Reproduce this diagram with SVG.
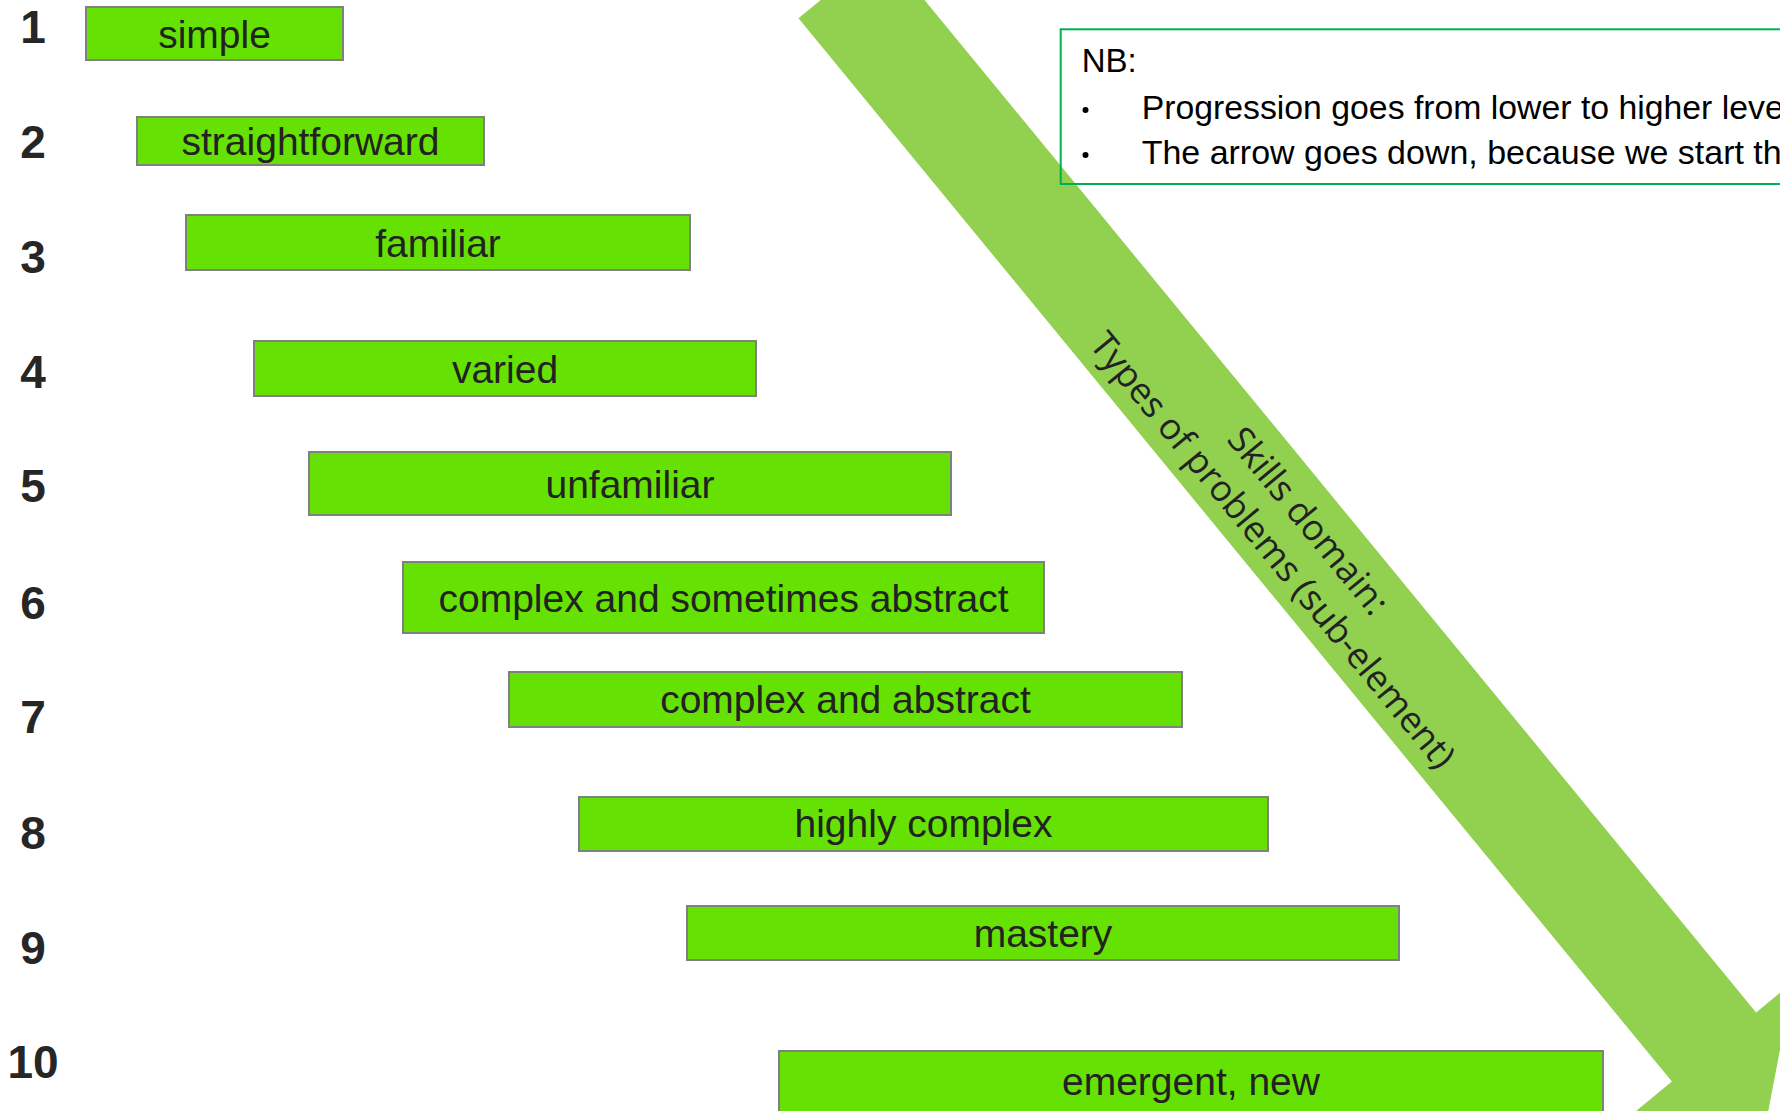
<svg xmlns="http://www.w3.org/2000/svg" width="1780" height="1111" viewBox="0 0 1780 1111">
<style>
.box{fill:#65E203;stroke:#808080;stroke-width:2}
.lbl{font-family:"Liberation Sans",Arial,sans-serif;font-size:39px;fill:#222;text-anchor:middle}
.num{font-family:"Liberation Sans",Arial,sans-serif;font-size:46px;font-weight:bold;fill:#262626;text-anchor:middle}
.rot{font-family:"Open Sans","Noto Sans",sans-serif;font-size:36px;fill:#222;text-anchor:middle}
.nb{font-family:"Liberation Sans",Arial,sans-serif;font-size:33px;fill:#000}
</style>
<rect width="1780" height="1111" fill="#fff"/>
<g id="connectors">
  <g id="big-arrow" transform="translate(840.6,-16.3) rotate(50.6)">
    <polygon points="0,-54.5 1376,-54.5 1376,-102 1461,0 1376,102 1376,54.5 0,54.5" fill="#92D050"/>
    <text class="rot" x="712" y="-8">Skills domain:</text>
    <text class="rot" x="712" y="38">Types of problems (sub-element)</text>
  </g>
</g>
<g id="numbers">
  <text class="num" x="33" y="43">1</text>
  <text class="num" x="33" y="158">2</text>
  <text class="num" x="33" y="273">3</text>
  <text class="num" x="33" y="388">4</text>
  <text class="num" x="33" y="502">5</text>
  <text class="num" x="33" y="619">6</text>
  <text class="num" x="33" y="733">7</text>
  <text class="num" x="33" y="849">8</text>
  <text class="num" x="33" y="964">9</text>
  <text class="num" x="33" y="1078">10</text>
</g>
<g id="n1"><rect class="box" x="86" y="7" width="257" height="53"/><text class="lbl" x="214.5" y="48">simple</text></g>
<g id="n2"><rect class="box" x="137" y="117" width="347" height="48"/><text class="lbl" x="310.5" y="155">straightforward</text></g>
<g id="n3"><rect class="box" x="186" y="215" width="504" height="55"/><text class="lbl" x="438" y="257">familiar</text></g>
<g id="n4"><rect class="box" x="254" y="341" width="502" height="55"/><text class="lbl" x="505" y="383">varied</text></g>
<g id="n5"><rect class="box" x="309" y="452" width="642" height="63"/><text class="lbl" x="630" y="498">unfamiliar</text></g>
<g id="n6"><rect class="box" x="403" y="562" width="641" height="71"/><text class="lbl" x="723.5" y="612">complex and sometimes abstract</text></g>
<g id="n7"><rect class="box" x="509" y="672" width="673" height="55"/><text class="lbl" x="845.5" y="713">complex and abstract</text></g>
<g id="n8"><rect class="box" x="579" y="797" width="689" height="54"/><text class="lbl" x="923.5" y="837">highly complex</text></g>
<g id="n9"><rect class="box" x="687" y="906" width="712" height="54"/><text class="lbl" x="1043" y="947">mastery</text></g>
<g id="n10"><rect class="box" x="779" y="1051" width="824" height="80"/><text class="lbl" x="1191" y="1095">emergent, new</text></g>
<g id="nb-note">
  <rect x="1060.7" y="29.3" width="760" height="154.7" fill="none" stroke="#00B050" stroke-width="2"/>
  <text class="nb" x="1081.7" y="72">NB:</text>
  <circle cx="1085.5" cy="110" r="3" fill="#000"/>
  <circle cx="1085.5" cy="155" r="3" fill="#000"/>
  <text class="nb" x="1141.7" y="119" textLength="642" lengthAdjust="spacingAndGlyphs">Progression goes from lower to higher leve</text>
  <text class="nb" x="1141.7" y="164" textLength="640" lengthAdjust="spacingAndGlyphs">The arrow goes down, because we start th</text>
</g>
</svg>
